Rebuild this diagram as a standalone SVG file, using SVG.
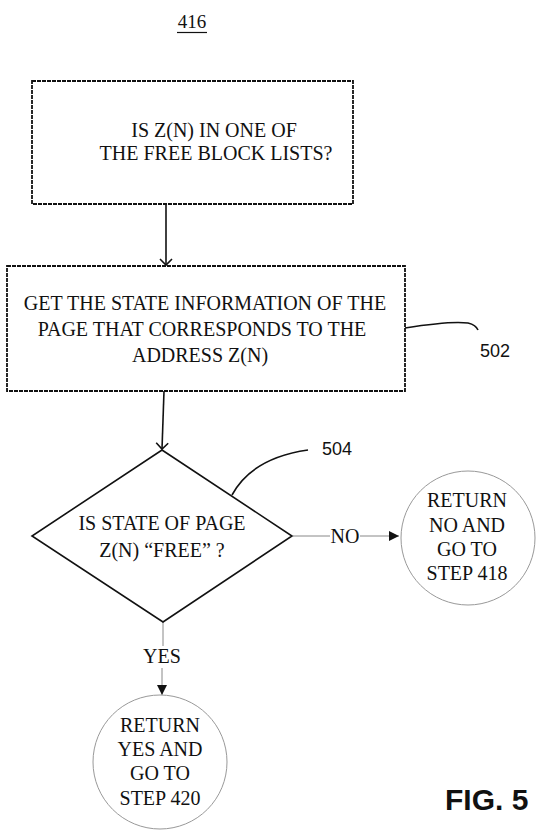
<svg xmlns="http://www.w3.org/2000/svg" width="538" height="839" viewBox="0 0 538 839">
<defs>
<style>
.t{font-family:"Liberation Serif","Times New Roman",serif;font-size:20px;fill:#111;text-anchor:middle}
.a{font-family:"Liberation Sans",Arial,sans-serif;font-size:18px;fill:#111}
.box{fill:#fff;stroke:#111;stroke-width:1.8;stroke-dasharray:4 1}
.dia{fill:#fff;stroke:#111;stroke-width:1.6}
.circ{fill:#fff;stroke:#999;stroke-width:1}
.ln{fill:none;stroke:#111;stroke-width:1.6}
.gl{fill:none;stroke:#888;stroke-width:1}
</style>
<marker id="open" markerWidth="14" markerHeight="14" refX="7" refY="7" orient="auto" markerUnits="userSpaceOnUse">
<path d="M1,1 L7,7 L1,13" fill="none" stroke="#111" stroke-width="1.6"/>
</marker>
<marker id="fill" markerWidth="12" markerHeight="12" refX="10" refY="5" orient="auto" markerUnits="userSpaceOnUse">
<path d="M0,0 L10,5 L0,10 Z" fill="#111"/>
</marker>
</defs>
<rect width="538" height="839" fill="#fff"/>

<g id="title">
<text x="192" y="28" class="t" style="font-size:19px">416</text>
<line x1="177" y1="32.5" x2="207" y2="32.5" stroke="#111" stroke-width="1.2"/>
</g>

<g id="connectors">
<line x1="166" y1="204" x2="166" y2="265" class="ln" marker-end="url(#open)"/>
<line x1="164" y1="391" x2="162" y2="449" class="ln" marker-end="url(#open)"/>
<line x1="293" y1="536" x2="330" y2="536" class="gl"/>
<line x1="360" y1="536" x2="399" y2="536" class="gl" marker-end="url(#fill)"/>
<text x="345" y="543" class="t">NO</text>
<line x1="163" y1="622" x2="163" y2="646" class="gl"/>
<line x1="162" y1="668" x2="162" y2="695" class="gl" marker-end="url(#fill)"/>
<text x="162" y="663" class="t">YES</text>
<path d="M405,328 C430,324 452,321 468,323 Q476,325 478,330" class="ln" stroke-width="1.4"/>
<path d="M232,495 Q252,458 308,450" class="ln" stroke-width="1.4"/>
</g>

<g id="n1">
<rect x="32" y="81" width="321" height="123" class="box"/>
<text x="214" y="137" class="t">IS Z(N) IN ONE OF</text>
<text x="216" y="160" class="t">THE FREE BLOCK LISTS?</text>
</g>

<g id="n2">
<rect x="7" y="266" width="398" height="125" class="box"/>
<text x="205" y="310" class="t">GET THE STATE INFORMATION OF THE</text>
<text x="202" y="336" class="t">PAGE THAT CORRESPONDS TO THE</text>
<text x="200" y="362" class="t">ADDRESS Z(N)</text>
</g>
<g id="l502"><text x="480" y="357" class="a">502</text></g>

<g id="n3">
<polygon points="162,450 292,536 163,622 32,536" class="dia"/>
<text x="162" y="530" class="t">IS STATE OF PAGE</text>
<text x="162" y="557" class="t">Z(N) “FREE” ?</text>
</g>
<g id="l504"><text x="322" y="455" class="a">504</text></g>

<g id="n4">
<circle cx="468" cy="538" r="67" class="circ"/>
<text x="467" y="507" class="t">RETURN</text>
<text x="467" y="532" class="t">NO AND</text>
<text x="467" y="556" class="t">GO TO</text>
<text x="467" y="580" class="t">STEP 418</text>
</g>

<g id="n5">
<circle cx="160" cy="762" r="67" class="circ"/>
<text x="160" y="732" class="t">RETURN</text>
<text x="160" y="756" class="t">YES AND</text>
<text x="160" y="780" class="t">GO TO</text>
<text x="160" y="805" class="t">STEP 420</text>
</g>

<g id="fig"><text x="445" y="810" style="font-family:'Liberation Sans',Arial,sans-serif;font-size:30px;font-weight:bold;fill:#111">FIG. 5</text></g>
</svg>
